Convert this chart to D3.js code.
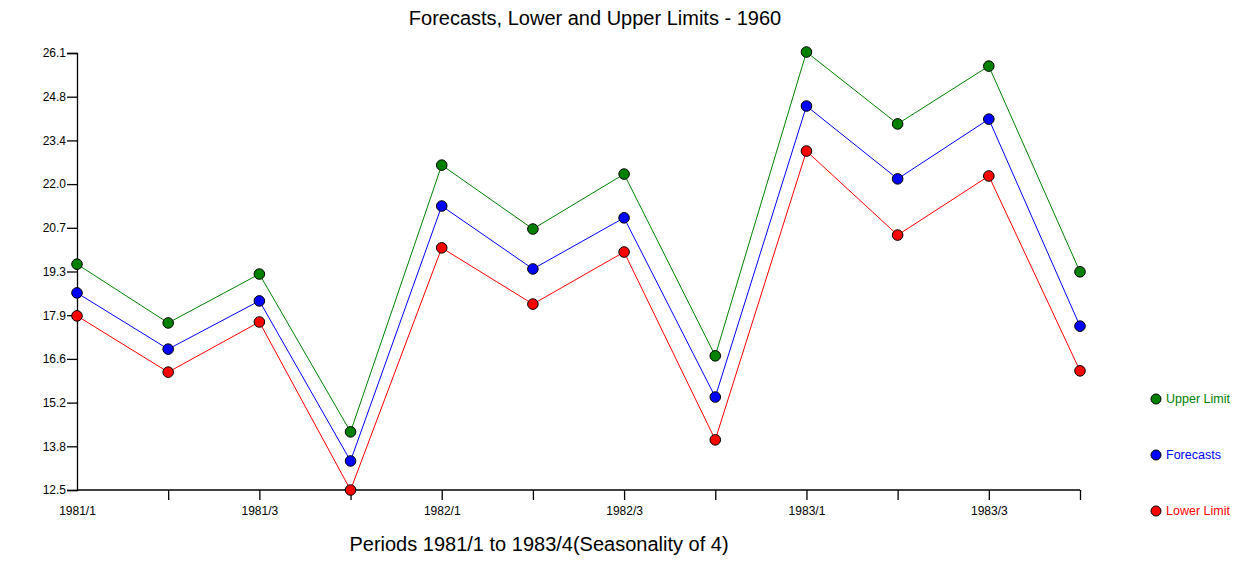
<!DOCTYPE html>
<html><head><meta charset="utf-8">
<script src="https://cdn.jsdelivr.net/npm/d3@7"></script>
<style>body{margin:0;background:#fff;} svg{display:block;font-family:"Liberation Sans",Arial,sans-serif;}</style>
</head><body>
<svg id="c" width="1240" height="564"></svg>
<script>
const periods = ["1981/1","1981/2","1981/3","1981/4","1982/1","1982/2","1982/3","1982/4","1983/1","1983/2","1983/3","1983/4"];
const upper = [19.52,17.68,19.21,14.27,22.62,20.62,22.34,16.65,26.16,23.91,25.72,19.28];
const forecasts = [18.62,16.86,18.37,13.36,21.34,19.37,20.97,15.36,24.47,22.19,24.06,17.58];
const lower = [17.90,16.14,17.71,12.45,20.03,18.27,19.90,14.02,23.06,20.43,22.28,16.18];
const yTickLabels = ["12.5","13.8","15.2","16.6","17.9","19.3","20.7","22.0","23.4","24.8","26.1"];
const yDomain = [12.45, 26.13];

const svg = d3.select("#c");
const L = 77, R = 1080, T = 53, B = 490;
const x = d3.scalePoint().domain(periods).range([L, R]);
const y = d3.scaleLinear().domain(yDomain).range([B, T]);
const tickVals = yTickLabels.map((d,i)=> yDomain[0] + i*(yDomain[1]-yDomain[0])/(yTickLabels.length-1));

// y axis
const yAxis = d3.axisLeft(y).tickValues(tickVals).tickFormat((d,i)=>yTickLabels[i]).tickSize(10).tickPadding(1);
const gy = svg.append("g").attr("transform",`translate(${L},0)`).call(yAxis);
gy.select(".domain").attr("stroke","#000").attr("stroke-width",1.3);
gy.selectAll(".tick line").attr("stroke","#000").attr("stroke-width",1.3);
gy.selectAll(".tick text").attr("font-size",12).attr("fill","#000").attr("font-family","Liberation Sans, Arial, sans-serif");

// x axis
const xAxis = d3.axisBottom(x).tickSize(10).tickPadding(6).tickFormat((d,i)=> i%2===0 ? d : "");
const gx = svg.append("g").attr("transform",`translate(0,${B})`).call(xAxis);
gx.select(".domain").attr("stroke","#000").attr("stroke-width",1.3).attr("d",`M${L},0H${R}`);
gx.selectAll(".tick line").attr("stroke","#000").attr("stroke-width",1.3);
gx.selectAll(".tick").filter((d,i)=>i===0).select("line").remove();
gx.selectAll(".tick text").attr("font-size",12).attr("fill","#000").attr("font-family","Liberation Sans, Arial, sans-serif");

const series = [
  {name:"Upper Limit", values:upper, color:"#008000"},
  {name:"Forecasts", values:forecasts, color:"#0000ff"},
  {name:"Lower Limit", values:lower, color:"#ff0000"}
];
const line = d3.line().x((d,i)=>x(periods[i])).y(d=>y(d));
series.forEach(s=>{
  svg.append("path").attr("d",line(s.values)).attr("fill","none").attr("stroke",s.color).attr("stroke-width",1);
});
series.forEach(s=>{
  svg.append("g").selectAll("circle").data(s.values).join("circle")
    .attr("cx",(d,i)=>x(periods[i])).attr("cy",d=>y(d)).attr("r",5.3)
    .attr("fill",s.color).attr("stroke","#000").attr("stroke-width",1);
});

// title
svg.append("text").attr("x",595).attr("y",25).attr("text-anchor","middle").attr("font-size",20).attr("fill","#000")
  .text("Forecasts, Lower and Upper Limits - 1960");
svg.append("text").attr("x",539).attr("y",551).attr("text-anchor","middle").attr("font-size",20).attr("fill","#000")
  .text("Periods 1981/1 to 1983/4(Seasonality of 4)");

// legend
const legY = [399,455,511];
series.forEach((s,i)=>{
  svg.append("circle").attr("cx",1156).attr("cy",legY[i]).attr("r",5).attr("fill",s.color).attr("stroke","#000").attr("stroke-width",1);
  svg.append("text").attr("x",1166).attr("y",legY[i]+4).attr("font-size",12.5).attr("fill",s.color).text(s.name);
});
</script>
</body></html>
